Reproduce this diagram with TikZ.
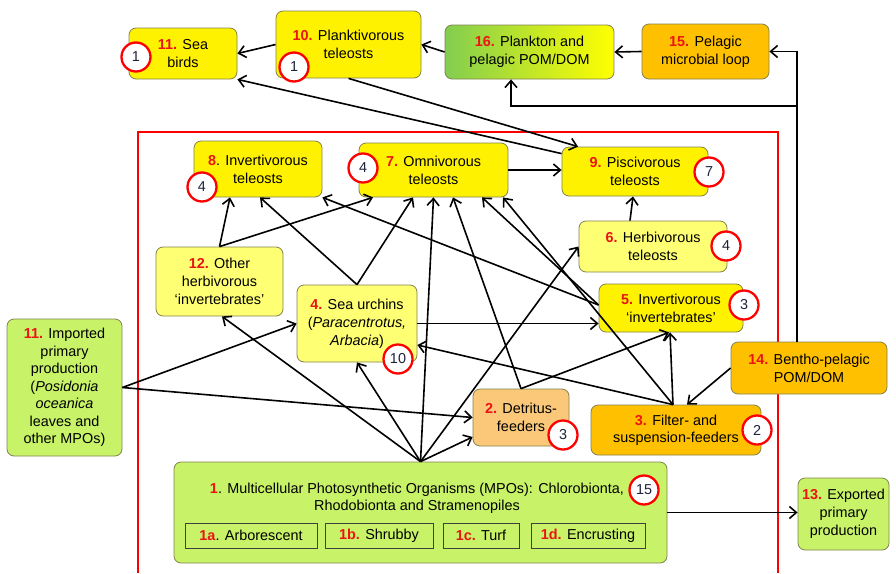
\documentclass[tikz,border=0pt]{standalone}
\usepackage{fontspec}
\setmainfont{Liberation Sans}
\usepackage{xcolor}
\usetikzlibrary{arrows.meta}
\definecolor{boxline}{RGB}{130,130,80}
\definecolor{paleyel}{RGB}{255,255,115}
\definecolor{amber}{RGB}{255,192,0}
\definecolor{detr}{RGB}{250,200,120}
\definecolor{mpogreen}{RGB}{200,242,104}
\definecolor{leafgreen}{RGB}{130,205,80}
\definecolor{numred}{RGB}{235,20,20}
\definecolor{countink}{RGB}{30,35,60}
\newcommand{\nr}[1]{\textcolor{numred}{\textbf{#1}}}

\begin{document}
\begin{tikzpicture}[x=1pt,y=-1pt,
    font=\fontsize{14.4}{18}\selectfont,
    box/.style={draw=boxline, line width=0.8pt, rounded corners=7pt, align=center, inner sep=0pt},
    yel/.style={box, fill=yellow},
    pale/.style={box, fill=paleyel},
    amb/.style={box, fill=amber},
    detbox/.style={box, fill=detr},
    grn/.style={box, fill=mpogreen},
    sub/.style={draw=black!75, line width=0.8pt, minimum height=25, inner sep=0pt},
    count/.style={circle, draw=red, line width=2.3pt, fill=white, text=countink, minimum size=29, inner sep=0pt},
    feed/.style={-{Straight Barb[length=7pt,width=12pt]}, line width=1.6pt},
    frame/.style={draw=red, line width=1.3pt}]
    \useasboundingbox (0,0) rectangle (896,573);
    \draw[frame] (138,573) -- (138,132) -- (778,132) -- (778,573);

    \node[yel, minimum width=108, minimum height=51] (seabirds) at (183,53.5) {\nr{11.} Sea\\birds};
    \node[yel, minimum width=145, minimum height=67] (plankt) at (348.5,44.5) {\nr{10.} Planktivorous\\teleosts};
    \node[box, left color=leafgreen, middle color=amber, right color=yellow, minimum width=169, minimum height=54] (plankton) at (529.5,52) {\nr{16.} Plankton and\\pelagic POM/DOM};
    \node[amb, minimum width=127, minimum height=55] (microbial) at (705.5,51.5) {\nr{15.} Pelagic\\microbial loop};
    \node[yel, minimum width=128, minimum height=56] (invteleo) at (258,169) {\nr{8}. Invertivorous\\teleosts};
    \node[yel, minimum width=149, minimum height=54] (omniv) at (433.5,170) {\nr{7.} Omnivorous\\teleosts};
    \node[yel, minimum width=146, minimum height=49] (pisciv) at (635,171.5) {\nr{9.} Piscivorous\\teleosts};
    \node[pale, minimum width=148, minimum height=51] (herbtel) at (653,246.5) {\nr{6.} Herbivorous\\teleosts};
    \node[pale, minimum width=127, minimum height=69] (herbinv) at (219.5,281.5) {\nr{12.} Other\\herbivorous\\‘invertebrates’};
    \node[pale, minimum width=120, minimum height=77] (urchins) at (357,323.5) {\nr{4.} Sea urchins\\(\textit{Paracentrotus,}\\\textit{Arbacia})};
    \node[yel, minimum width=144, minimum height=48] (invinv) at (671,308) {\nr{5.} Invertivorous\\‘invertebrates’};
    \node[grn, minimum width=115, minimum height=137, font=\fontsize{14.4}{17.5}\selectfont] (imported) at (64.5,387.5) {\nr{11.} Imported\\primary\\production\\(\textit{Posidonia}\\\textit{oceanica}\\leaves and\\other MPOs)};
    \node[amb, minimum width=156, minimum height=52] (benthpom) at (809,368) {\nr{14.} Bentho-pelagic\\POM/DOM};
    \node[detbox, minimum width=96, minimum height=57] (detritus) at (521,417.5) {\nr{2.} Detritus-\\feeders};
    \node[amb, minimum width=170, minimum height=50, font=\fontsize{14.4}{17}\selectfont] (filter) at (676,430) {\nr{3.} Filter- and\\suspension-feeders};
    \node[grn, minimum width=493, minimum height=101] (mpo) at (420.5,512.5) {};
    \node[align=center, font=\fontsize{14.4}{17}\selectfont] (mpotext) at (417,498.5) {\nr{1}. Multicellular Photosynthetic Organisms (MPOs): Chlorobionta,\\Rhodobionta and Stramenopiles};
    \node[sub, minimum width=132] (arbor) at (251,535.5) {\nr{1a}. Arborescent};
    \node[sub, minimum width=108] (shrub) at (379,535.5) {\nr{1b.} Shrubby};
    \node[sub, minimum width=76] (turf) at (481,535.5) {\nr{1c.} Turf};
    \node[sub, minimum width=114] (encrust) at (588,535.5) {\nr{1d.} Encrusting};
    \node[grn, minimum width=91, minimum height=72] (exported) at (843.5,514) {\nr{13.} Exported\\primary\\production};

    \coordinate (riser) at (797,106);
    \draw[feed] (plankt.west) -- (seabirds.east);
    \draw[feed] (plankton.west) -- (plankt.east);
    \draw[feed] (microbial.west) -- (plankton.east);
    \draw[feed] ([xshift=-12]benthpom.north) |- (microbial.east);
    \draw[feed] (riser) -| ([xshift=-18.5]plankton.south);
    \draw[feed] (plankt.south) -- ([xshift=-57]pisciv.north);
    \draw[feed] ([yshift=-7]pisciv.north west) -- (seabirds.south east);
    \draw[feed] (omniv.east) -- (omniv.east -| pisciv.west);
    \draw[feed] ([xshift=-23]herbtel.north) -- ([xshift=-2]pisciv.south);
    \draw[feed] (herbinv.north) -- ([xshift=-28]invteleo.south);
    \draw[feed] (herbinv.north) -- ([xshift=-60.5]omniv.south);
    \draw[feed] (urchins.north) -- ([xshift=2]invteleo.south);
    \draw[feed] (urchins.north) -- ([xshift=-20.5]omniv.south);
    \draw[feed] ([yshift=3]invinv.west) -- (invteleo.south east);
    \draw[feed] ([yshift=3]invinv.west) -- ([xshift=48.5]omniv.south);
    \draw[feed] (mpo.north) -- (omniv.south);
    \draw[feed] (detritus.north) -- ([xshift=19.5]omniv.south);
    \draw[feed] ([xshift=-3]filter.north) -- ([xshift=69.5]omniv.south);
    \draw[feed] (mpo.north) -- ([xshift=2.5]herbinv.south);
    \draw[feed] (mpo.north) -- (urchins.south);
    \draw[feed] (mpo.north) -- ([yshift=-19.5]detritus.west);
    \draw[feed] (mpo.north) -- (herbtel.west);
    \draw[feed] (urchins.east) -- (urchins.east -| invinv.west);
    \draw[feed] ([xshift=-3]filter.north) -- ([yshift=-21.5]urchins.east);
    \draw[feed] (detritus.north) -- ([xshift=-2]invinv.south);
    \draw[feed] ([xshift=-3]filter.north) -- ([xshift=-1]invinv.south);
    \draw[feed] (benthpom.west) -- ([xshift=11]filter.north);
    \draw[feed] (imported.east) -- (urchins.west);
    \draw[feed] (imported.east) -- (detritus.west);
    \draw[feed] (mpo.east) -- (mpo.east -| exported.west);

    \node[count] (c11) at (136,57) {1};
    \node[count] (c10) at (294,67) {1};
    \node[count] (c8) at (202,187) {4};
    \node[count] (c7) at (363,168) {4};
    \node[count] (c9) at (709,172) {7};
    \node[count] (c6) at (726,246) {4};
    \node[count] (c4) at (398,359) {10};
    \node[count] (c5) at (744,305) {3};
    \node[count] (c2) at (563,435) {3};
    \node[count] (c3) at (757,430) {2};
    \node[count] (c1) at (644,490) {15};
\end{tikzpicture}
\end{document}
